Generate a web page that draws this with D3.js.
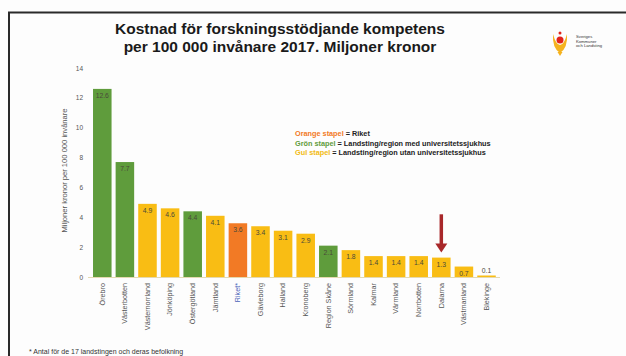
<!DOCTYPE html>
<html>
<head>
<meta charset="utf-8">
<script src="https://cdn.jsdelivr.net/npm/d3@7"></script>
<style>
  html, body { margin: 0; padding: 0; background: #fff; }
  svg { display: block; font-family: "Liberation Sans", Arial, sans-serif; }
</style>
</head>
<body>
<svg id="chart" width="626" height="356"></svg>
<script>
// Regions, in the order shown
const regions = ["Örebro", "Västerbotten", "Västernorrland", "Jönköping", "Östergötland", "Jämtland",
  "Riket*", "Gävleborg", "Halland", "Kronoberg", "Region Skåne", "Sörmland", "Kalmar", "Värmland",
  "Norrbotten", "Dalarna", "Västmanland", "Blekinge"];
// Cost, million SEK per 100 000 inhabitants
const costs = [12.6, 7.7, 4.9, 4.6, 4.4, 4.1, 3.6, 3.4, 3.1, 2.9, 2.1, 1.8, 1.4, 1.4, 1.4, 1.3, 0.7, 0.1];
// Group: "u" = with university hospital, "r" = national total, "o" = without university hospital
const groups = ["u", "u", "o", "o", "u", "o", "r", "o", "o", "o", "u", "o", "o", "o", "o", "o", "o", "o"];
const yTicks = [0, 2, 4, 6, 8, 10, 12, 14];
const highlighted = "Dalarna";

const colors = { u: "#5f9c3c", r: "#f27a25", o: "#f9bd14" };
const legendRows = [
  { key: "Orange stapel", rest: " = Riket", color: "#f27a25" },
  { key: "Grön stapel", rest: " = Landsting/region med universitetssjukhus", color: "#5f9c3c" },
  { key: "Gul stapel", rest: " = Landsting/region utan universitetssjukhus", color: "#f2bb14" }
];

const svg = d3.select("#chart");

// Slide frame
svg.append("rect").attr("width", 626).attr("height", 356).attr("fill", "#fdfdfd");
svg.append("path").attr("d", "M9,356 V12.5 H626").attr("fill", "none")
  .attr("stroke", "#2a2a2a").attr("stroke-width", 2);

// Title
const title = svg.append("text").attr("text-anchor", "middle").attr("font-weight", "bold")
  .attr("font-size", 15.5).attr("fill", "#1a1a1a");
title.append("tspan").attr("x", 280).attr("y", 34).text("Kostnad för forskningsstödjande kompetens");
title.append("tspan").attr("x", 280).attr("y", 52).text("per 100 000 invånare 2017. Miljoner kronor");

// Scales
const x = d3.scaleBand().domain(regions).range([88.5, 500.3]).paddingInner(0.18).paddingOuter(0.2);
const y = d3.scaleLinear().domain([0, 14]).range([277, 68]);

// Y axis (labels only)
const yAxis = svg.append("g").attr("transform", "translate(83,0)")
  .call(d3.axisLeft(y).tickValues(yTicks).tickSize(0).tickPadding(0));
yAxis.select(".domain").remove();
yAxis.selectAll("text").attr("font-size", 6.5).attr("fill", "#555")
  .attr("font-family", "'Liberation Sans', Arial, sans-serif");

svg.append("text")
  .attr("transform", `translate(67,${(y(0) + y(14)) / 2 - 2}) rotate(-90)`)
  .attr("text-anchor", "middle").attr("font-size", 7.6).attr("fill", "#555")
  .text("Miljoner kronor per 100 000 invånare");

// Baseline
svg.append("line").attr("x1", 88).attr("x2", 500).attr("y1", y(0) + 0.5).attr("y2", y(0) + 0.5)
  .attr("stroke", "#e4d9b0").attr("stroke-width", 1);

// Bars
const data = regions.map((r, i) => ({ region: r, value: costs[i], group: groups[i] }));
svg.append("g").selectAll("rect").data(data).join("rect")
  .attr("x", d => x(d.region))
  .attr("y", d => y(d.value))
  .attr("width", x.bandwidth())
  .attr("height", d => Math.max(1.5, y(0) - y(d.value)))
  .attr("fill", d => colors[d.group]);

// Value labels
svg.append("g").selectAll("text").data(data).join("text")
  .attr("x", d => x(d.region) + x.bandwidth() / 2)
  .attr("y", d => d.value < 0.5 ? y(d.value) - 3 : y(d.value) + 9)
  .attr("text-anchor", "middle").attr("font-size", 6.8).attr("fill", "#4a4a3a")
  .text(d => d.value.toFixed(1));

// Category labels, rotated
const xAxis = svg.append("g").attr("transform", `translate(0,${y(0)})`)
  .call(d3.axisBottom(x).tickSize(0).tickPadding(0));
xAxis.select(".domain").remove();
xAxis.selectAll("text")
  .attr("font-size", 7.2).attr("fill", d => d === "Riket*" ? "#4a63b8" : "#555")
  .attr("font-family", "'Liberation Sans', Arial, sans-serif")
  .attr("text-anchor", "end").attr("dy", "0.32em")
  .attr("transform", "translate(0,6) rotate(-90)")
  .attr("x", 0).attr("y", 0);

// Legend
const legend = svg.append("g").attr("font-size", 7.3).attr("font-weight", "bold");
legendRows.forEach((row, i) => {
  const t = legend.append("text").attr("x", 295).attr("y", 136 + i * 9.5);
  t.append("tspan").attr("fill", row.color).text(row.key);
  t.append("tspan").attr("fill", "#222").text(row.rest);
});

// Arrow pointing to highlighted region
const ax = x(highlighted) + x.bandwidth() / 2;
const aTop = y(4.2), aTip = y(costs[regions.indexOf(highlighted)]) - 5;
svg.append("line").attr("x1", ax).attr("x2", ax).attr("y1", aTop).attr("y2", aTip - 8)
  .attr("stroke", "#a8282a").attr("stroke-width", 3.5);
svg.append("path")
  .attr("d", `M${ax - 6},${aTip - 9} L${ax + 6},${aTip - 9} L${ax},${aTip} Z`)
  .attr("fill", "#a8282a");

// Footnote
svg.append("text").attr("x", 29).attr("y", 354).attr("font-size", 7).attr("fill", "#333")
  .text("* Antal för de 17 landstingen och deras befolkning");

// Organisation mark
const logo = svg.append("g").attr("transform", "translate(560,43)");
logo.append("path").attr("d", "M-7,-9 Q-8,5 0,10 Q8,5 7,-9 Q4,2 0,2 Q-4,2 -7,-9 Z").attr("fill", "#f5b21e");
logo.append("path").attr("d", "M-2.5,9 L0,13 L2.5,9 Z").attr("fill", "#f5b21e");
logo.append("circle").attr("cx", 0).attr("cy", -3).attr("r", 3.5).attr("fill", "#e2231a");
logo.append("circle").attr("cx", 0).attr("cy", -10).attr("r", 1.5).attr("fill", "#e2231a");
const logoText = logo.append("text").attr("font-size", 4.2).attr("fill", "#333");
["Sveriges", "Kommuner", "och Landsting"].forEach((s, i) => {
  logoText.append("tspan").attr("x", 16).attr("y", -5 + i * 4.6).text(s);
});
</script>
</body>
</html>
